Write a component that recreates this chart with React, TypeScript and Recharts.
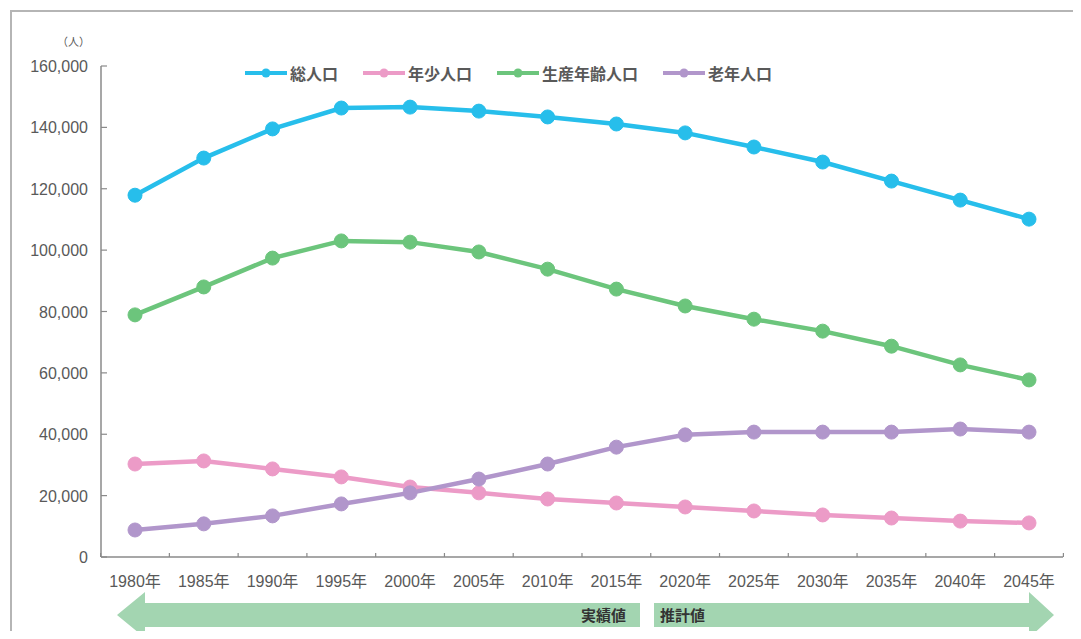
import { LineChart, Line, XAxis, YAxis } from "recharts";

const years = ["1980年", "1985年", "1990年", "1995年", "2000年", "2005年", "2010年", "2015年", "2020年", "2025年", "2030年", "2035年", "2040年", "2045年"];
const total = [117900, 130000, 139500, 146300, 146600, 145300, 143400, 141100, 138200, 133600, 128700, 122500, 116300, 110100];
const youth = [30300, 31300, 28700, 26100, 22800, 20900, 18900, 17600, 16300, 15000, 13700, 12700, 11700, 11100];
const working = [78900, 88000, 97400, 103000, 102600, 99400, 93800, 87300, 81800, 77500, 73600, 68700, 62600, 57700];
const elderly = [8800, 10800, 13400, 17300, 20900, 25400, 30300, 35800, 39800, 40700, 40700, 40700, 41700, 40700];
const yTicks = [0, 20000, 40000, 60000, 80000, 100000, 120000, 140000, 160000];

const series = [
  { key: "total", name: "総人口", color: "#27BEEB" },
  { key: "youth", name: "年少人口", color: "#EC9BC7" },
  { key: "working", name: "生産年齢人口", color: "#6CC57C" },
  { key: "elderly", name: "老年人口", color: "#B196CB" },
];

const data = years.map((year, i) => ({
  year,
  total: total[i],
  youth: youth[i],
  working: working[i],
  elderly: elderly[i],
}));

const FONT = "'Liberation Sans', 'Noto Sans CJK JP', sans-serif";
const TEXT = "#595959";
const AXIS = "#8a8a8a";
const HALF = 34.4; // half of one category band

function XTick(props: any) {
  const { x, y, payload, index } = props;
  return (
    <g>
      <line x1={x - HALF} y1={y} x2={x - HALF} y2={y - 4} stroke={AXIS} strokeWidth={1.2} />
      {index === years.length - 1 && (
        <line x1={x + HALF} y1={y} x2={x + HALF} y2={y - 4} stroke={AXIS} strokeWidth={1.2} />
      )}
      <text x={x} y={y + 30} textAnchor="middle" fontSize={16} fill={TEXT} fontFamily={FONT}>
        {payload.value}
      </text>
    </g>
  );
}

function YTick(props: any) {
  const { x, y, payload } = props;
  return (
    <g>
      <line x1={x} y1={y} x2={x + 6} y2={y} stroke={AXIS} strokeWidth={1.2} />
      <text x={x - 13} y={y + 6} textAnchor="end" fontSize={16} fill={TEXT} fontFamily={FONT}>
        {payload.value.toLocaleString("en-US")}
      </text>
    </g>
  );
}

function ChartLegend() {
  return (
    <div style={{ display: "flex", gap: 25, fontFamily: FONT, fontSize: 16, fontWeight: 700, color: TEXT }}>
      {series.map((s) => (
        <span key={s.key} style={{ display: "flex", alignItems: "center", gap: 3 }}>
          <svg width={42} height={12}>
            <line x1={0} y1={6} x2={42} y2={6} stroke={s.color} strokeWidth={4} />
            <circle cx={21} cy={6} r={4.5} fill={s.color} />
          </svg>
          {s.name}
        </span>
      ))}
    </div>
  );
}

export default function App() {
  return (
    <div style={{ position: "relative", width: 1081, height: 639, margin: -8, overflow: "hidden", background: "#fff", fontFamily: FONT }}>
      <div style={{ position: "absolute", left: 10, top: 10, width: 1200, height: 800, border: "2px solid #b5b5b5" }} />
      <div style={{ position: "absolute", left: 57, top: 33, fontSize: 11, color: TEXT }}>（人）</div>

      <div style={{ position: "absolute", left: 0, top: 0 }}>
        <LineChart width={1081} height={639} data={data} margin={{ top: 66, right: 18, bottom: 52, left: 11 }}>
          <XAxis
            dataKey="year"
            height={30}
            padding={{ left: 34, right: 34 }}
            axisLine={{ stroke: AXIS, strokeWidth: 1.5 }}
            tickLine={false}
            tickSize={0}
            tickMargin={0}
            interval={0}
            tick={<XTick />}
          />
          <YAxis
            width={90}
            domain={[0, 160000]}
            ticks={yTicks}
            interval={0}
            axisLine={{ stroke: AXIS, strokeWidth: 1.5 }}
            tickLine={false}
            tickSize={0}
            tickMargin={0}
            tick={<YTick />}
          />
          {series.map((s) => (
            <Line
              key={s.key}
              dataKey={s.key}
              name={s.name}
              stroke={s.color}
              strokeWidth={4.5}
              dot={{ r: 7, fill: s.color, stroke: s.color, strokeWidth: 1 }}
              activeDot={false}
              isAnimationActive={false}
            />
          ))}
        </LineChart>
      </div>

      <div style={{ position: "absolute", left: 245, top: 61 }}>
        <ChartLegend />
      </div>

      <svg width={1081} height={639} style={{ position: "absolute", left: 0, top: 0, pointerEvents: "none" }}>
        <polygon points="117,615 145,592 145,603 640,603 640,627 145,627 145,638" fill="#A3D5B1" />
        <polygon points="654,603 1029,603 1029,592 1054,615 1029,638 1029,627 654,627" fill="#A3D5B1" />
        <text x={626} y={621} textAnchor="end" fontSize={15} fontWeight={700} fill="#333" fontFamily={FONT}>実績値</text>
        <text x={660} y={621} fontSize={15} fontWeight={700} fill="#333" fontFamily={FONT}>推計値</text>
      </svg>
    </div>
  );
}
